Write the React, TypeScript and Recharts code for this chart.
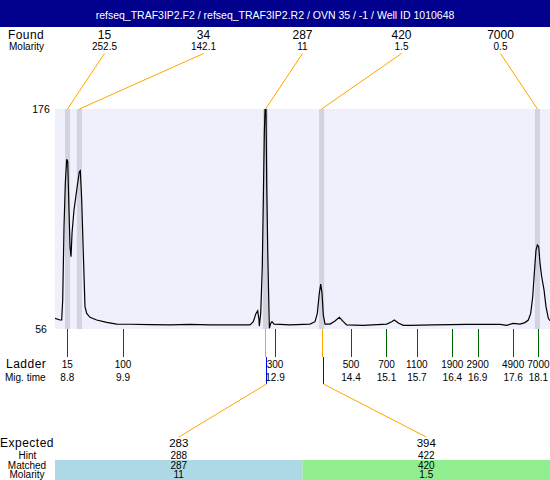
import React from "react";
import {
  ComposedChart,
  Line,
  XAxis,
  YAxis,
  CartesianGrid,
  ReferenceArea,
  ReferenceLine,
} from "recharts";

const FONT = "'Liberation Sans', Arial, sans-serif";
const W = 550;
const H = 480;
const PLOT_L = 55;
const PLOT_T = 109;
const PLOT_B = 329;
const PLOT_W = W - PLOT_L;

const title = "refseq_TRAF3IP2.F2 / refseq_TRAF3IP2.R2 / OVN 35 / -1 / Well ID 1010648";

// electropherogram trace (migration time, fluorescence)
const traceTime = [
  8.557, 8.656, 8.689, 8.709, 8.735, 8.761, 8.788, 8.808, 8.828, 8.853, 8.873, 8.893, 8.932,
  8.986, 9.037, 9.057, 9.084, 9.116, 9.149, 9.183, 9.248, 9.38, 9.578, 9.775, 10.04, 10.432,
  10.83, 11.22, 11.62, 12.01, 12.406, 12.471, 12.525, 12.558, 12.584, 12.59, 12.618, 12.649,
  12.669, 12.689, 12.703, 12.722, 12.736, 12.756, 12.776, 12.788, 12.815, 12.841, 12.881,
  12.999, 13.196, 13.591, 13.69, 13.735, 13.774, 13.802, 13.828, 13.853, 13.887, 13.986,
  14.084, 14.169, 14.248, 14.315, 14.643, 15.105, 15.203, 15.255, 15.334, 15.433, 15.565,
  16.025, 16.684, 17.341, 17.474, 17.604, 17.736, 17.835, 17.9, 17.947, 17.987, 18.018, 18.052,
  18.078, 18.105, 18.131, 18.164, 18.21, 18.249, 18.295, 18.328,
];
const traceFluo = [
  61.8, 60.9, 60.9, 71.8, 111.8, 135.6, 148.6, 147.3, 126.4, 100.9, 95.4, 108.2, 120.9,
  131.8, 141.8, 142.4, 126.4, 97.3, 68.2, 64.5, 62.4, 60.9, 59.6, 58.7, 58.6, 58.4,
  58.3, 58.5, 58.3, 58.2, 58.2, 60, 64.5, 66, 60.9, 57.6, 64.7, 90,
  126.4, 162.7, 176, 176, 135.5, 99, 71.8, 56.4, 59.1, 60, 58.7,
  58.5, 58.2, 58.7, 60, 64.5, 75.5, 80.5, 75.5, 63.6, 58.7, 58.7,
  60.4, 62.4, 60, 58.2, 58, 58.7, 60, 60.9, 59.3, 58, 58,
  58.2, 58.5, 58.5, 58, 59.1, 58.7, 59.5, 60.9, 64.5, 73.6, 86.4, 99.1,
  101.8, 100.9, 91.8, 84.5, 77.3, 68.2, 61.8, 60.5,
];

const foundSize = ["15", "34", "287", "420", "7000"];
const foundMolarity = ["252.5", "142.1", "11", "1.5", "0.5"];
const foundTime = [8.804, 9.038, 12.712, 13.82, 18.08];

const ladderSize = ["15", "100", "300", "500", "700", "1100", "1900", "2900", "4900", "7000"];
const ladderTime = [8.8, 9.9, 12.9, 14.4, 15.1, 15.7, 16.4, 16.9, 17.6, 18.1];

const expectedSize = ["283", "394"];
const hintSize = ["288", "422"];
const matchedSize = ["287", "420"];
const matchedMolarity = ["11", "1.5"];
const matchedTime = [12.712, 13.82];
const matchedFill = ["#add8e6", "#90ee90"];

const data = traceTime.map((t, i) => ({ t, fluo: traceFluo[i] }));

const BAND = 0.05;

const foundX = (i: number) => PLOT_L + (PLOT_W * (i + 0.5)) / foundSize.length;
const expectedX = (i: number) => PLOT_L + (PLOT_W * (i + 0.5)) / expectedSize.length;

const txt = { fontFamily: FONT, fill: "#000" };

const foundShape = (i: number) => (p: any) => {
  const x = p.x1;
  const top = Math.min(p.y1, p.y2);
  const lx = foundX(i);
  return (
    <g>
      <line x1={x} y1={top} x2={lx} y2={53.5} stroke="#ffa500" strokeWidth={1} />
      <text x={lx} y={39} textAnchor="middle" fontSize={12} {...txt}>
        {foundSize[i]}
      </text>
      <text x={lx} y={49.5} textAnchor="middle" fontSize={10} {...txt}>
        {foundMolarity[i]}
      </text>
    </g>
  );
};

const expectedShape = (i: number) => (p: any) => {
  const x = Math.round(p.x1) + 0.5;
  const bottom = Math.max(p.y1, p.y2);
  const cx = expectedX(i);
  return (
    <g>
      <line x1={x} y1={bottom} x2={x} y2={bottom + 28} stroke="#ffa500" />
      <line x1={x + 1} y1={bottom + 28} x2={x + 1} y2={bottom + 55} stroke="#0000ff" />
      <line x1={x + 1} y1={bottom + 55} x2={cx} y2={437} stroke="#ffa500" />
      <text x={cx} y={447} textAnchor="middle" fontSize={11.5} {...txt}>
        {expectedSize[i]}
      </text>
      <text x={cx} y={458.5} textAnchor="middle" fontSize={10} {...txt}>
        {hintSize[i]}
      </text>
      <text x={cx} y={468.5} textAnchor="middle" fontSize={10} {...txt}>
        {matchedSize[i]}
      </text>
      <text x={cx} y={478.3} textAnchor="middle" fontSize={10} {...txt}>
        {matchedMolarity[i]}
      </text>
    </g>
  );
};

const YTick = (p: any) => (
  <text x={41} y={p.y} dy={4} textAnchor="middle" fontSize={10.5} {...txt}>
    {p.payload.value}
  </text>
);

const LadderTick = (p: any) => {
  const i = p.index;
  const x = Math.round(p.x) + 0.5;
  return (
    <g>
      <line x1={x} y1={PLOT_B} x2={x} y2={PLOT_B + 28} stroke="#006400" />
      <text x={p.x} y={PLOT_B + 38.5} textAnchor="middle" fontSize={10} {...txt}>
        {ladderSize[i]}
      </text>
      <text x={p.x} y={PLOT_B + 52} textAnchor="middle" fontSize={10} {...txt}>
        {ladderTime[i].toFixed(1)}
      </text>
    </g>
  );
};

function Backdrop() {
  const colW = PLOT_W / expectedSize.length;
  return (
    <svg width={W} height={H} style={{ position: "absolute", left: 0, top: 0 }}>
      <rect x={0} y={0} width={W} height={27} fill="#00008c" />
      <text x={W / 2} y={18.5} textAnchor="middle" fontSize={10.5} fontFamily={FONT} fill="#fff">
        {title}
      </text>
      <text x={8} y={39} fontSize={12} letterSpacing={0.4} {...txt}>Found</text>
      <text x={9} y={49.5} fontSize={10} {...txt}>Molarity</text>
      <text x={6} y={367.5} fontSize={12} letterSpacing={0.5} {...txt}>Ladder</text>
      <text x={5} y={381} fontSize={10} {...txt}>Mig. time</text>
      <text x={0} y={447} fontSize={12} letterSpacing={0.5} {...txt}>Expected</text>
      <text x={27.5} y={458.5} fontSize={10} textAnchor="middle" {...txt}>Hint</text>
      <text x={27} y={468.5} fontSize={10} textAnchor="middle" {...txt}>Matched</text>
      <text x={27} y={478.3} fontSize={10} textAnchor="middle" {...txt}>Molarity</text>
      {matchedFill.map((f, i) => (
        <rect key={i} x={PLOT_L + i * colW} y={460} width={colW} height={20} fill={f} />
      ))}
    </svg>
  );
}

export default function App() {
  return (
    <div style={{ position: "absolute", left: 0, top: 0, width: W, height: H, background: "#fff" }}>
      <Backdrop />
      <ComposedChart
        width={W}
        height={H}
        data={data}
        margin={{ top: PLOT_T, right: 0, bottom: 0, left: 0 }}
      >
        <CartesianGrid fill="#f0f0fc" stroke="none" horizontal={false} vertical={false} />
        <XAxis
          dataKey="t"
          type="number"
          domain={[8.557, 18.328]}
          allowDataOverflow
          ticks={ladderTime}
          interval={0}
          tick={LadderTick}
          tickLine={false}
          axisLine={false}
          tickSize={0}
          tickMargin={0}
          height={H - PLOT_B}
        />
        <YAxis
          type="number"
          domain={[56, 176]}
          allowDataOverflow
          ticks={[56, 176]}
          tick={YTick}
          tickLine={false}
          axisLine={false}
          tickSize={0}
          width={PLOT_L}
        />
        {foundTime.map((t, i) => (
          <ReferenceArea
            key={"band" + i}
            x1={t - BAND}
            x2={t + BAND}
            fill="#d3d3df"
            fillOpacity={1}
            stroke="none"
          />
        ))}
        <Line
          type="linear"
          dataKey="fluo"
          stroke="#000"
          strokeWidth={1.2}
          dot={false}
          isAnimationActive={false}
        />
        {foundTime.map((t, i) => (
          <ReferenceLine key={"found" + i} x={t} shape={foundShape(i)} />
        ))}
        {matchedTime.map((t, i) => (
          <ReferenceLine key={"exp" + i} x={t} shape={expectedShape(i)} />
        ))}
      </ComposedChart>
    </div>
  );
}
